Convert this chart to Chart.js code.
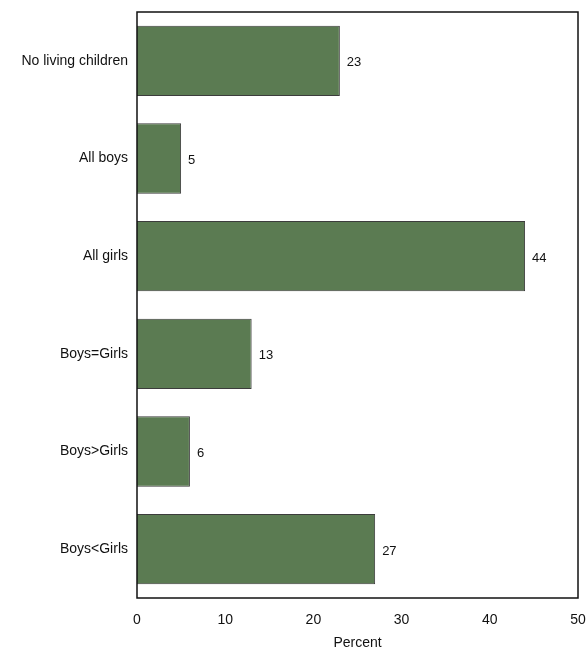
<!DOCTYPE html>
<html>
<head>
<meta charset="utf-8">
<script src="https://cdn.jsdelivr.net/npm/chart.js@4"></script>
<style>
  html, body { margin: 0; padding: 0; background: #fff; }
  #wrap { width: 587px; height: 654px; }
</style>
</head>
<body>
<div id="wrap"><canvas id="myChart" width="587" height="654"></canvas></div>
<script>
// データ
const categories = ['No living children', 'All boys', 'All girls', 'Boys=Girls', 'Boys>Girls', 'Boys<Girls'];
const percents = [23, 5, 44, 13, 6, 27];
const xTicks = [0, 10, 20, 30, 40, 50];

const FONT = '"Liberation Sans Narrow", "Liberation Sans", Arial, sans-serif';

// 外枠と値ラベルを描くプラグイン
const framePlugin = {
    id: 'frame',
    afterDatasetsDraw(chart) {
        const { ctx, chartArea: a } = chart;
        ctx.save();
        ctx.strokeStyle = '#111';
        ctx.lineWidth = 1.5;
        ctx.strokeRect(a.left, a.top, a.right - a.left, a.bottom - a.top);
        ctx.fillStyle = '#111';
        ctx.font = '13px ' + FONT;
        ctx.textBaseline = 'middle';
        chart.getDatasetMeta(0).data.forEach((bar, i) => {
            ctx.fillText(String(percents[i]), bar.x + 7, bar.y + 2);
        });
        ctx.restore();
    }
};

new Chart(document.getElementById('myChart').getContext('2d'), {
    type: 'bar',
    data: {
        labels: categories,
        datasets: [{
            data: percents,
            backgroundColor: '#5b7b52',
            borderColor: '#3c3c3c',
            borderWidth: 1,
            barPercentage: 0.72,
            categoryPercentage: 1.0
        }]
    },
    options: {
        indexAxis: 'y',
        responsive: false,
        animation: false,
        layout: { padding: { top: 12, right: 9, left: 0, bottom: 2 } },
        plugins: { legend: { display: false }, tooltip: { enabled: false } },
        scales: {
            x: {
                min: 0, max: 50,
                afterBuildTicks(axis) { axis.ticks = xTicks.map(v => ({ value: v })); },
                afterFit(axis) { axis.paddingRight = 0; axis.paddingLeft = 0; axis.height = 54; },
                grid: { display: false, drawTicks: false },
                border: { display: false },
                ticks: { color: '#111', padding: 14, font: { size: 14, family: FONT } },
                title: { display: true, text: 'Percent', color: '#111', padding: { top: 6, bottom: 0 }, font: { size: 14, family: FONT } }
            },
            y: {
                grid: { display: false, drawTicks: false },
                border: { display: false },
                ticks: { color: '#111', padding: 9, font: { size: 14, family: FONT } },
                afterFit(axis) { axis.width = 137; axis.paddingTop = 0; axis.paddingBottom = 0; }
            }
        }
    },
    plugins: [framePlugin]
});
</script>
</body>
</html>
